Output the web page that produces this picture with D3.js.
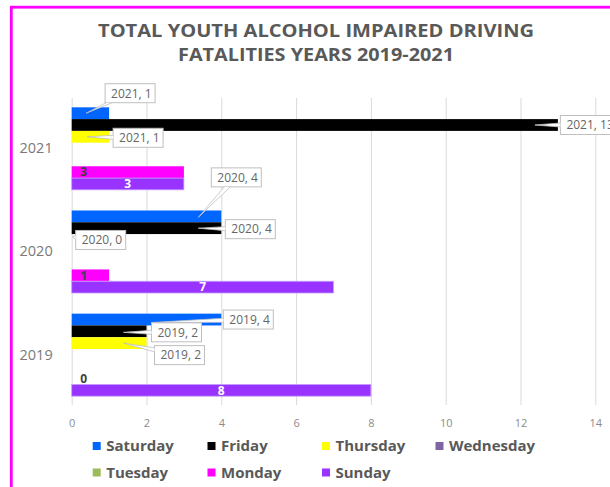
<!DOCTYPE html>
<html>
<head>
<meta charset="utf-8">
<script src="https://cdn.jsdelivr.net/npm/d3@7"></script>
<style>
  html, body { margin: 0; padding: 0; background: #fff; }
  svg { display: block; }
</style>
</head>
<body>
<script>
// data
var years = ["2019", "2020", "2021"];
var days = ["Saturday", "Friday", "Thursday", "Wednesday", "Tuesday", "Monday", "Sunday"];
var saturday  = [4, 4, 1];
var friday    = [2, 4, 13];
var thursday  = [2, 0, 1];
var wednesday = [0, 0, 0];
var tuesday   = [0, 0, 0];
var monday    = [0, 1, 3];
var sunday    = [8, 7, 3];
var xTicks = [0, 2, 4, 6, 8, 10, 12, 14];
var colors = ["#0066ff", "#000000", "#ffff00", "#8064a2", "#9bbb59", "#ff00ff", "#9933ff"];

var seriesValues = [saturday, friday, thursday, wednesday, tuesday, monday, sunday];

// callout placement (box centre offset from bar end / slot centre, tail tip offset)
var callouts = {
  "2021-Saturday": {bx: 21, by: -20, tx: -23, ty: 0},
  "2021-Friday":   {bx: 31, by: 0,   tx: -23, ty: 0},
  "2021-Thursday": {bx: 29, by: 1,   tx: -22, ty: 0},
  "2020-Saturday": {bx: 15, by: -39, tx: -23, ty: 1},
  "2020-Friday":   {bx: 29, by: 1,   tx: -23, ty: 0},
  "2020-Thursday": {bx: 29, by: 0,   tx: 1,   ty: -3},
  "2019-Saturday": {bx: 27, by: 0,   tx: -70, ty: 3},
  "2019-Friday":   {bx: 30, by: 1,   tx: -23, ty: 1},
  "2019-Thursday": {bx: 33, by: 12,  tx: -23, ty: 0}
};

function init() {
  var w = 610, h = 487;
  var svg = d3.select("body").append("svg")
    .attr("width", w).attr("height", h);

  svg.append("rect").attr("width", w).attr("height", h).attr("fill", "#fff");

  // magenta frame
  svg.append("rect")
    .attr("x", 11.3).attr("y", 7.2)
    .attr("width", 640).attr("height", 520)
    .attr("fill", "none").attr("stroke", "#ff00ff").attr("stroke-width", 2.8);

  // title
  var title = svg.append("g")
    .attr("font-family", "'Open Sans', 'DejaVu Sans', sans-serif")
    .attr("font-weight", "bold").attr("font-size", 18.5)
    .attr("fill", "#595959").attr("text-anchor", "middle");
  title.append("text").attr("x", 316).attr("y", 36.7)
    .attr("textLength", 436).attr("lengthAdjust", "spacingAndGlyphs")
    .text("TOTAL YOUTH ALCOHOL IMPAIRED DRIVING");
  title.append("text").attr("x", 316).attr("y", 61)
    .attr("textLength", 276).attr("lengthAdjust", "spacingAndGlyphs")
    .text("FATALITIES YEARS 2019-2021");

  var xScale = d3.scaleLinear().domain([0, 14]).range([71.7, 595.3]);
  var yScale = d3.scaleBand()
    .domain(years.slice().reverse())
    .range([97, 406.5])
    .paddingInner(0.2).paddingOuter(0.1);
  var slot = d3.scaleBand().domain(days).range([0, yScale.bandwidth()]);

  // grid / x axis
  var xAxis = d3.axisBottom(xScale)
    .tickValues(xTicks)
    .tickSize(-(405 - 98))
    .tickSizeOuter(0)
    .tickPadding(14);
  var gx = svg.append("g")
    .attr("transform", "translate(0,405)")
    .call(xAxis);
  gx.select(".domain").remove();
  gx.selectAll("line").attr("stroke", "#d9d9d9");
  gx.selectAll("text")
    .attr("fill", "#8c8c8c")
    .attr("font-family", "'Open Sans', sans-serif")
    .attr("font-size", 11);

  // y axis
  var yAxis = d3.axisLeft(yScale).tickSize(0).tickPadding(19);
  var gy = svg.append("g")
    .attr("transform", "translate(71.7,0)")
    .call(yAxis);
  gy.select(".domain").remove();
  gy.selectAll("text")
    .attr("fill", "#7a7a7a")
    .attr("font-family", "'Open Sans', sans-serif")
    .attr("font-size", 14.5);

  // bars
  var rows = [];
  years.forEach(function(yr, i) {
    days.forEach(function(d, j) {
      rows.push({year: yr, day: d, value: seriesValues[j][i], color: colors[j]});
    });
  });

  svg.append("g").selectAll("rect")
    .data(rows.filter(function(r) { return r.value > 0; }))
    .enter().append("rect")
    .attr("x", xScale(0))
    .attr("y", function(r) { return yScale(r.year) + slot(r.day); })
    .attr("width", function(r) { return xScale(r.value) - xScale(0); })
    .attr("height", slot.bandwidth())
    .attr("fill", function(r) { return r.color; })
    .attr("stroke", function(r) { return r.day == "Sunday" ? "#c9a3ff" : null; })
    .attr("stroke-width", 0.8);

  // monday labels (inside base, dark)
  svg.append("g").selectAll("text")
    .data(rows.filter(function(r) { return r.day == "Monday"; }))
    .enter().append("text")
    .attr("x", xScale(0) + 8.5)
    .attr("y", function(r) { return yScale(r.year) + slot(r.day) + slot.bandwidth() / 2; })
    .attr("dy", "0.36em")
    .attr("font-family", "'Open Sans', sans-serif")
    .attr("font-weight", "bold").attr("font-size", 12)
    .attr("fill", "#404040")
    .text(function(r) { return r.value; });

  // sunday labels (centred, white)
  svg.append("g").selectAll("text")
    .data(rows.filter(function(r) { return r.day == "Sunday"; }))
    .enter().append("text")
    .attr("x", function(r) { return (xScale(0) + xScale(r.value)) / 2; })
    .attr("y", function(r) { return yScale(r.year) + slot(r.day) + slot.bandwidth() / 2; })
    .attr("dy", "0.36em")
    .attr("text-anchor", "middle")
    .attr("font-family", "'Open Sans', sans-serif")
    .attr("font-weight", "bold").attr("font-size", 12)
    .attr("fill", "#ffffff")
    .text(function(r) { return r.value; });

  // callouts for Saturday / Friday / Thursday
  var callRows = rows.filter(function(r) { return callouts[r.year + "-" + r.day]; });
  var cg = svg.append("g");
  callRows.forEach(function(r) {
    var c = callouts[r.year + "-" + r.day];
    var ex = xScale(r.value);
    var cy = yScale(r.year) + slot(r.day) + slot.bandwidth() / 2;
    var label = r.year + ", " + r.value;
    var bw = label.length > 7 ? 57 : 50, bh = 19;
    var cx = ex + c.bx, cyy = cy + c.by;
    var tipX = ex + c.tx, tipY = cy + c.ty;
    var x0 = cx - bw / 2, y0 = cyy - bh / 2;

    // where the tail leaves the box
    var dx = tipX - cx, dy = tipY - cyy;
    var s = Math.min(Math.abs((bw / 2) / (dx || 1e-6)), Math.abs((bh / 2) / (dy || 1e-6)));
    var px = cx + dx * s, py = cyy + dy * s;
    var onVert = Math.abs(Math.abs(px - cx) - bw / 2) < 0.01;
    var b1, b2;
    if (onVert) {
      var yy = Math.max(y0 + 2, Math.min(y0 + bh - 2, py));
      b1 = [px, yy - 2]; b2 = [px, yy + 2];
    } else {
      var xx = Math.max(x0 + 4, Math.min(x0 + bw - 4, px));
      b1 = [xx - 3, py]; b2 = [xx + 3, py];
    }

    cg.append("rect")
      .attr("x", x0).attr("y", y0).attr("width", bw).attr("height", bh)
      .attr("fill", "#fff").attr("stroke", "#bfbfbf").attr("stroke-width", 1);
    cg.append("path")
      .attr("d", "M" + b1 + "L" + [tipX, tipY] + "L" + b2 + "Z")
      .attr("fill", "#fff").attr("stroke", "none");
    cg.append("path")
      .attr("d", "M" + b1 + "L" + [tipX, tipY] + "L" + b2)
      .attr("fill", "none").attr("stroke", "#bfbfbf").attr("stroke-width", 0.8);
    cg.append("text")
      .attr("x", x0 + 6).attr("y", cyy).attr("dy", "0.36em")
      .attr("font-family", "'Open Sans', sans-serif")
      .attr("font-size", 12).attr("fill", "#666666")
      .text(label);
  });

  // legend
  var legX = [92.7, 207.5, 322, 435.5];
  var legend = svg.append("g").selectAll("g")
    .data(days)
    .enter().append("g")
    .attr("transform", function(d, i) {
      return "translate(" + legX[i % 4] + "," + (i < 4 ? 446 : 472.5) + ")";
    });
  legend.append("rect")
    .attr("x", 0).attr("y", -4).attr("width", 8).attr("height", 8)
    .attr("fill", function(d, i) { return colors[i]; });
  legend.append("text")
    .attr("x", 13.5).attr("dy", "0.36em")
    .attr("font-family", "'Open Sans', sans-serif")
    .attr("font-weight", "bold").attr("font-size", 15)
    .attr("fill", "#595959")
    .text(function(d) { return d; });
}
window.onload = init;
</script>
</body>
</html>
